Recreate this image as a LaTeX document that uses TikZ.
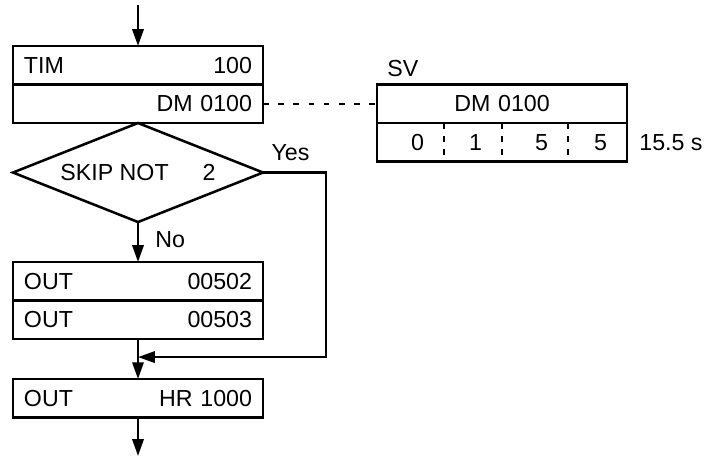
\documentclass[tikz,border=0pt]{standalone}
\usepackage{fontspec}
\setmainfont{Liberation Sans}
\usetikzlibrary{shapes.geometric, arrows.meta, positioning}
\begin{document}
\begin{tikzpicture}[
    x=0.025cm, y=-0.025cm,
    line width=1.8pt,
    font=\fontsize{16.5}{19}\selectfont,
    >={Triangle[length=0.42cm, width=0.28cm]},
    row/.style={rectangle, draw, outer sep=0pt, minimum height=0.9625cm, inner xsep=0.275cm, inner ysep=0pt, text width=5.7cm, align=left},
    decision/.style={diamond, draw, outer sep=0pt, inner sep=0pt, aspect=2.525, minimum width=6.25cm, minimum height=2.475cm},
    cell/.style={inner xsep=0.5cm, inner ysep=0pt, minimum height=0.9625cm, text width=#1, align=right, outer sep=0pt},
    lbl/.style={inner sep=0pt},
    link/.style={line width=1.4pt, dash pattern=on 0.14cm off 0.24cm},
    divider/.style={line width=1.4pt, dash pattern=on 0.14cm off 0.19cm}
]
    \useasboundingbox (0,0) rectangle (709,458);

    % main flow
    \coordinate (in) at (138,5);
    \node (tim) [row] at (138,65.25) {TIM\hfill 100};
    \node (tim sv) [row, below=0pt of tim] {\leavevmode\hfill DM 0100};
    \node (skip) [decision, below=0pt of tim sv] {SKIP NOT\hspace{0.85cm}2};
    \node (out a) [row, below=1cm of skip] {OUT\hfill 00502};
    \node (out b) [row, below=0pt of out a] {OUT\hfill 00503};
    \coordinate [below=0.45cm of out b] (join);
    \node (hr) [row, below=1cm of out b] {OUT\hfill HR 1000};
    \coordinate (out) at (138,456);

    \node (yes) [lbl, anchor=base west] at ([xshift=0.18cm, yshift=0.3cm]skip.east) {Yes};
    \node (no) [lbl, anchor=west] at ([xshift=0.4cm, yshift=-0.45cm]skip.south) {No};

    % set value word
    \node (sv) [row, align=center, right=2.85cm of tim sv] {DM 0100};
    \node (sv bits) [row, below=0pt of sv] {};
    \node (c1) [cell=0.675cm, anchor=west] at (sv bits.west) {0};
    \node (c2) [cell=0.45cm, right=0pt of c1] {1};
    \node (c3) [cell=0.65cm, right=0pt of c2] {5};
    \node (c4) [cell=0.475cm, right=0pt of c3] {5};
    \node (sv label) [lbl, anchor=base west] at ([xshift=0.225cm, yshift=0.2cm]sv.north west) {SV};
    \node (secs) [lbl, right=0.275cm of sv bits] {15.5 s};

    \foreach \c in {c1,c2,c3}
        \draw [divider] (\c.north east) -- (\c.south east);

    \draw [->] (in) -- (tim);
    \draw [->] (skip) -- (out a);
    \draw [->] (skip.east) -- ++(63,0) |- (join);
    \draw (out b) -- (join);
    \draw [->] (join) -- (hr);
    \draw [->] (hr) -- (out);
    \draw [link] (tim sv) -- (sv);
\end{tikzpicture}
\end{document}
